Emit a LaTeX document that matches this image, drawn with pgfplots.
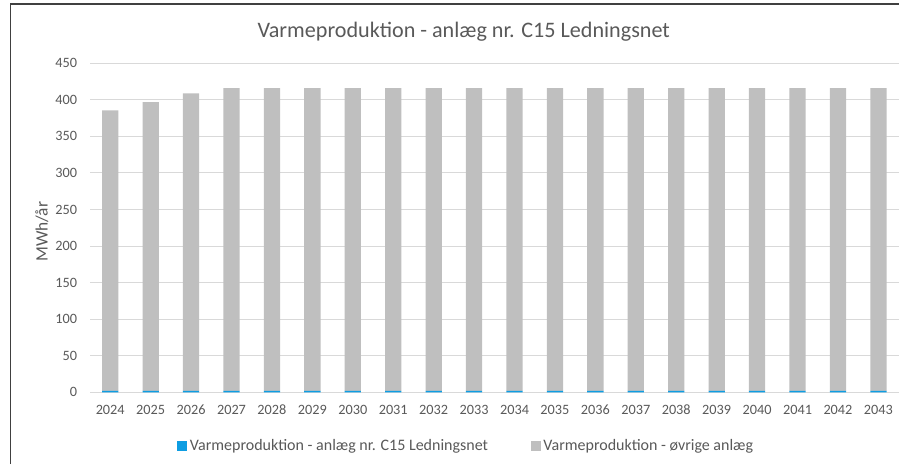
\documentclass[border=0pt]{standalone}
\usepackage{pgfplots}
\pgfplotsset{compat=1.18}
\usepackage{fontspec}
\setmainfont{Carlito}
\definecolor{txt}{HTML}{595959}
\definecolor{gridc}{HTML}{D9D9D9}
\definecolor{barg}{HTML}{BFBFBF}
\definecolor{barb}{HTML}{0E9DE2}

% values (MWh/aar)
\pgfplotstableread{
x  own  other
0  2  383.5
1  2  395
2  2  407
3  2  414
4  2  414
5  2  414
6  2  414
7  2  414
8  2  414
9  2  414
10 2  414
11 2  414
12 2  414
13 2  414
14 2  414
15 2  414
16 2  414
17 2  414
18 2  414
19 2  414
}\heat

\begin{document}
\begin{tikzpicture}
\useasboundingbox (-67.5pt,-53.775pt) rectangle (606.75pt,294.225pt);
\draw[black!75, line width=1pt] (-59.6pt,-53.775pt) -- (-59.6pt,291.2pt) -- (620pt,291.2pt);
\begin{axis}[
scale only axis,
width=606.45pt, height=246.75pt,
ybar stacked, bar width=12.2pt,
xmin=-0.5, xmax=19.5,
ymin=0, ymax=450,
xtick={0,...,19},
xticklabels={2024,2025,2026,2027,2028,2029,2030,2031,2032,2033,2034,2035,2036,2037,2038,2039,2040,2041,2042,2043},
ytick={0,50,...,450},
major tick length=0pt,
axis line style={draw=none},
ymajorgrids, grid style={gridc, line width=0.75pt},
tick label style={font=\fontsize{10.7}{12}\selectfont, text=txt},
/pgf/number format/assume math mode=true,
yticklabel style={anchor=east, inner sep=0pt, xshift=-9.5pt},
xticklabel style={anchor=base, inner sep=0pt, yshift=-16.8pt},
every axis title shift=0pt,
title={Varmeproduktion - anlæg nr. C15 Ledningsnet},
title style={at={(0.4622,1.096)}, anchor=center, font=\fontsize{16.6}{19}\selectfont, text=txt},
ylabel={MWh/år},
ylabel style={at={(-0.0597,0.488)}, anchor=center, font=\fontsize{13}{15}\selectfont, text=txt},
legend columns=2,
legend style={at={(0.4657,-0.1633)}, anchor=center, draw=none, font=\fontsize{12}{14}\selectfont, text=txt,
  /tikz/every even column/.append style={column sep=30pt}},
legend image code/.code={\fill[#1] (0pt,-3.75pt) rectangle (7.5pt,3.75pt);},
]
\addplot[fill=barb, draw=none] table[x=x, y=own] {\heat};
\addplot[fill=barg, draw=none] table[x=x, y=other] {\heat};
\legend{Varmeproduktion - anlæg nr. C15 Ledningsnet, Varmeproduktion - øvrige anlæg}
\end{axis}
\end{tikzpicture}
\end{document}
